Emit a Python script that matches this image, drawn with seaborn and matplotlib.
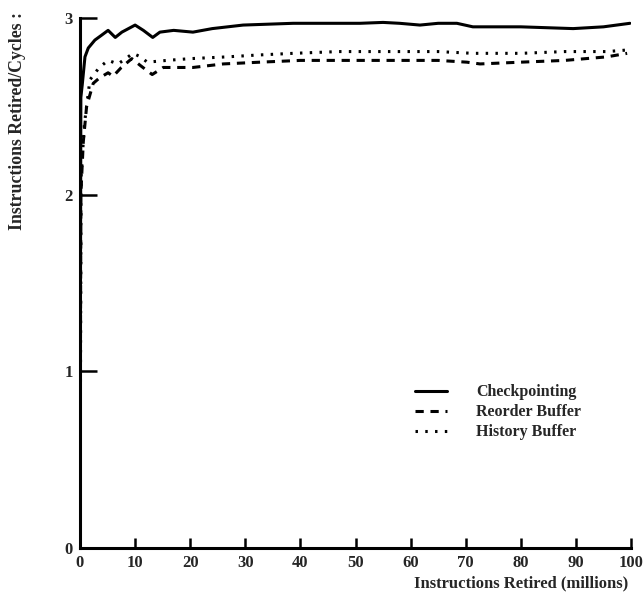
import matplotlib
matplotlib.use("Agg")
import matplotlib.pyplot as plt
import seaborn as sns
import pandas as pd
import numpy as np

# Data
ckpt_x = [0, 0.15, 0.4, 0.9, 1.5, 2.7, 3.8, 5.1, 6.4, 7.6, 10.0, 11.5, 13.2, 14.5, 17.0, 20.5, 24.0, 29.6, 38.7, 47.0, 50.8, 55.0, 58.0, 61.7, 65.0, 68.4, 71.3, 80.0, 89.5, 95.0, 99.8]
ckpt_y = [0.0, 2.55, 2.62, 2.78, 2.83, 2.875, 2.90, 2.93, 2.89, 2.92, 2.96, 2.93, 2.89, 2.92, 2.93, 2.92, 2.94, 2.96, 2.97, 2.97, 2.97, 2.975, 2.97, 2.96, 2.97, 2.97, 2.95, 2.95, 2.94, 2.95, 2.97]

rob_x = [0, 0.15, 0.6, 1.2, 2.4, 3.5, 5.1, 6.0, 7.5, 9.4, 11.0, 13.1, 15.1, 20.5, 26.0, 32.7, 40.0, 47.0, 50.8, 58.0, 65.0, 70.2, 72.6, 80.0, 88.0, 95.6, 99.3]
rob_y = [0.0, 2.0, 2.3, 2.5, 2.63, 2.66, 2.69, 2.67, 2.72, 2.77, 2.73, 2.68, 2.72, 2.72, 2.74, 2.75, 2.76, 2.76, 2.76, 2.76, 2.76, 2.75, 2.74, 2.75, 2.76, 2.78, 2.80]

hist_x = [0, 0.2, 0.8, 1.8, 3.5, 5.1, 6.9, 8.3, 9.6, 11.0, 12.2, 15.8, 20.0, 26.7, 32.0, 38.7, 47.0, 50.8, 58.0, 65.0, 71.3, 80.0, 88.0, 95.6, 99.8]
hist_y = [0.0, 2.1, 2.4, 2.65, 2.72, 2.76, 2.74, 2.77, 2.80, 2.78, 2.75, 2.76, 2.77, 2.78, 2.79, 2.80, 2.81, 2.81, 2.81, 2.81, 2.80, 2.80, 2.81, 2.81, 2.82]

series_names = ["Checkpointing", "Reorder Buffer", "History Buffer"]
x_ticks = [0, 10, 20, 30, 40, 50, 60, 70, 80, 90, 100]
y_ticks = [0, 1, 2, 3]

sns.set_style("white")
plt.rcParams["font.family"] = ["Liberation Serif", "DejaVu Serif"]

fig = plt.figure(figsize=(6.44, 5.95), dpi=100)
ax = fig.add_axes([80/644, 1-548/595, (631-80)/644, (548-18)/595])

styles = ["-", (0, (2.7, 2.2)), (0, (0.8, 2.4))]
datasets = [(ckpt_x, ckpt_y), (rob_x, rob_y), (hist_x, hist_y)]
for (xs, ys), name, ls in zip(datasets, series_names, styles):
    df = pd.DataFrame({"x": xs, "y": ys})
    sns.lineplot(data=df, x="x", y="y", ax=ax, color="black", lw=2.2,
                 linestyle=ls, label=name, estimator=None, sort=False)

ax.set_xlim(0, 100)
ax.set_ylim(0, 3)
ax.set_xticks(x_ticks)
ax.set_yticks(y_ticks)
ax.set_xticklabels([str(v) for v in x_ticks], fontsize=12, fontweight="bold")
ax.set_yticklabels([str(v) for v in y_ticks], fontsize=12, fontweight="bold")
ax.tick_params(axis="x", bottom=True, direction="in", length=7, width=1.8, color="black", pad=5)
ax.tick_params(axis="y", left=True, direction="in", length=12, width=1.8, color="black", pad=5)

for s in ["top", "right"]:
    ax.spines[s].set_visible(False)
for s in ["left", "bottom"]:
    ax.spines[s].set_linewidth(2.2)
    ax.spines[s].set_color("black")

ax.set_xlabel("")
ax.set_ylabel("")
fig.text(628/644, 1-583/595, "Instructions Retired (millions)", ha="right", va="center",
         fontsize=12, fontweight="bold")
fig.text(18/644, 1-12/595, "Instructions Retired/Cycles :", ha="center", va="top",
         rotation=90, fontsize=12.8, fontweight="bold")

leg = ax.legend(loc="upper left", bbox_to_anchor=((401-80)/551, 1-(370-18)/530),
                frameon=False, handlelength=2.0, handletextpad=1.8, labelspacing=0.25,
                prop={"size": 11.5, "weight": "bold"})

fig.savefig("out.png", dpi=100)
